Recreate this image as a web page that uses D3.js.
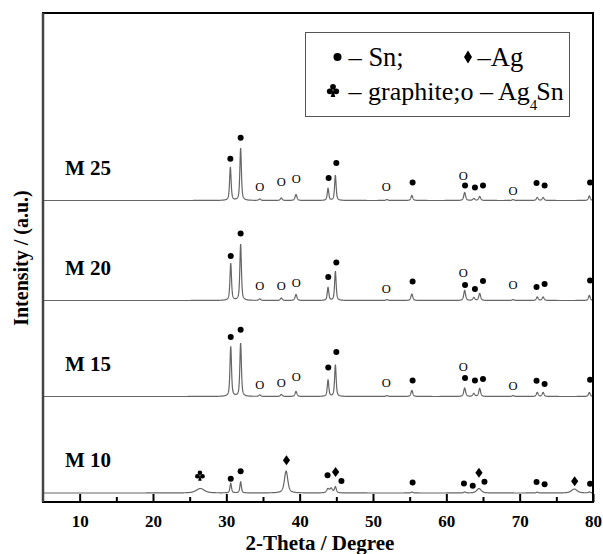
<!DOCTYPE html>
<html>
<head>
<meta charset="utf-8">
<script src="https://cdn.jsdelivr.net/npm/d3@7"></script>
<style>
  body { margin: 0; background: #fff; }
  svg { display: block; }
  text { font-family: "Liberation Serif", "Times New Roman", serif; fill: #000; }
</style>
</head>
<body>
<svg id="chart"></svg>
<script>
// data (intensity in a.u., baseline offsets of the stacked patterns)
const xTicks = [10, 20, 30, 40, 50, 60, 70, 80];
const xMinorTicks = [15, 25, 35, 45, 55, 65, 75];
const samples = ["M 10", "M 15", "M 20", "M 25"];
const baselines = [9, 105.5, 201.5, 301.5];

// peaks: [2theta, height, fwhm]
const peaksM10 = [[26.45, 4.5, 1.3], [30.6, 9.5, 0.25], [31.95, 11, 0.25], [38.15, 22, 0.55],
  [43.85, 4, 0.4], [44.3, 4.5, 0.4], [44.87, 6, 0.3], [55.3, 1, 0.3], [62.5, 1, 0.3],
  [64.45, 4.5, 0.7], [72.4, 0.8, 0.3], [77.45, 4, 0.9], [79.5, 1, 0.3]];
const peaksM15 = [[30.6, 50, 0.25], [31.95, 53, 0.25], [34.55, 1.5, 0.3], [37.5, 2, 0.3],
  [39.5, 5, 0.3], [43.87, 16.5, 0.25], [44.87, 31.5, 0.25], [51.9, 1, 0.3], [55.3, 6, 0.3],
  [62.5, 8.5, 0.3], [63.75, 3, 0.3], [64.55, 8, 0.3], [69.1, 1, 0.3], [72.4, 4, 0.3],
  [73.2, 4, 0.3], [79.5, 4, 0.3]];
const peaksM20 = [[30.6, 37, 0.25], [31.95, 56, 0.25], [34.55, 1.5, 0.3], [37.5, 2.5, 0.3],
  [39.5, 6, 0.3], [43.87, 13, 0.25], [44.87, 29, 0.25], [51.9, 1, 0.3], [55.3, 6.5, 0.3],
  [62.5, 10, 0.3], [63.75, 3, 0.3], [64.55, 7, 0.3], [69.1, 1, 0.3], [72.4, 3.5, 0.3],
  [73.2, 3.5, 0.3], [79.5, 5, 0.3]];
const peaksM25 = [[30.55, 33, 0.25], [31.95, 52, 0.25], [34.55, 1.5, 0.3], [37.5, 2.5, 0.3],
  [39.5, 6, 0.3], [43.87, 12, 0.25], [44.87, 25, 0.25], [51.9, 1, 0.3], [55.3, 5, 0.3],
  [62.5, 8, 0.3], [63.75, 2, 0.3], [64.55, 4, 0.3], [69.1, 1, 0.3], [72.4, 3, 0.3],
  [73.2, 3, 0.3], [79.5, 4.5, 0.3]];

// phase marks: [phase, 2theta, height above baseline]
const marksM10 = [["C", 26.4, 16.7], ["Sn", 30.6, 14.3], ["Sn", 31.95, 21.7], ["Ag", 38.2, 32.7],
  ["Sn", 43.8, 17.7], ["Ag", 44.9, 21], ["Sn", 45.7, 12], ["Sn", 55.4, 10.5], ["Sn", 62.4, 9.5],
  ["Sn", 63.6, 7.2], ["Ag", 64.45, 20.3], ["Sn", 65.2, 11.3], ["Sn", 72.3, 11], ["Sn", 73.4, 8.7],
  ["Ag", 77.5, 11.7], ["Sn", 79.6, 9.3]];
const marksM15 = [["Sn", 30.6, 59.4], ["Sn", 31.95, 66.7], ["AgSn", 34.55, 11.7], ["AgSn", 37.5, 13.3],
  ["AgSn", 39.55, 20], ["Sn", 43.9, 29], ["Sn", 45.0, 44.4], ["AgSn", 51.8, 14], ["Sn", 55.4, 16],
  ["AgSn", 62.3, 30], ["Sn", 62.55, 18.4], ["Sn", 63.9, 16], ["Sn", 65.0, 17.4], ["AgSn", 69.1, 10.7],
  ["Sn", 72.3, 15.7], ["Sn", 73.4, 12.4], ["Sn", 79.6, 16.7]];
const marksM20 = [["Sn", 30.6, 44.5], ["Sn", 31.95, 67], ["AgSn", 34.55, 15], ["AgSn", 37.5, 14.5],
  ["AgSn", 39.55, 17.5], ["Sn", 43.9, 23.5], ["Sn", 45.0, 38], ["AgSn", 51.8, 12], ["Sn", 55.4, 19],
  ["AgSn", 62.3, 27.5], ["Sn", 62.55, 15.5], ["Sn", 63.9, 11.5], ["Sn", 65.0, 19.5], ["AgSn", 69.1, 15.5],
  ["Sn", 72.3, 13.5], ["Sn", 73.4, 16.5], ["Sn", 79.6, 20]];
const marksM25 = [["Sn", 30.55, 41.7], ["Sn", 31.95, 62.7], ["AgSn", 34.55, 14], ["AgSn", 37.5, 19],
  ["AgSn", 39.55, 21.7], ["Sn", 43.95, 22.4], ["Sn", 45.0, 37.4], ["AgSn", 51.8, 13.7], ["Sn", 55.4, 18],
  ["AgSn", 62.3, 24.7], ["Sn", 62.55, 15], ["Sn", 63.9, 13], ["Sn", 65.0, 15], ["AgSn", 69.1, 10],
  ["Sn", 72.3, 17.4], ["Sn", 73.4, 15], ["Sn", 79.6, 18]];

const peaks = [peaksM10, peaksM15, peaksM20, peaksM25];
const marks = [marksM10, marksM15, marksM20, marksM25];

const width = 603;
const height = 554;
const plotLeft = 43, plotRight = 593, plotTop = 13, plotBottom = 502;

let svg = d3.select("#chart")
  .attr("width", width)
  .attr("height", height);

let x = d3.scaleLinear().domain([5, 80]).range([plotLeft, plotRight]);
let y = d3.scaleLinear().domain([0, plotBottom - plotTop]).range([plotBottom, plotTop]);

// pseudo-voigt peak profile
function profile(t, list) {
  let s = 0;
  list.forEach(([c, h, w]) => {
    let u = (t - c) / (w / 2);
    s += h * (0.6 / (1 + u * u) + 0.4 * Math.exp(-Math.LN2 * u * u));
  });
  return s;
}

// club symbol (graphite) drawn from three lobes and a stem
function drawClub(g, cx, cy, k) {
  let c = g.append("g").attr("transform", `translate(${cx},${cy}) scale(${k})`).attr("fill", "#000");
  c.append("circle").attr("cx", 0).attr("cy", -2.6).attr("r", 2.3);
  c.append("circle").attr("cx", -2.6).attr("cy", 1).attr("r", 2.3);
  c.append("circle").attr("cx", 2.6).attr("cy", 1).attr("r", 2.3);
  c.append("path").attr("d", "M0,-1L1.8,5.5L-1.8,5.5Z");
}

const grid = d3.range(5, 80.0001, 0.02);

let line = d3.line()
  .x(d => x(d[0]))
  .y(d => y(d[1]));

samples.forEach((name, i) => {
  let pts = grid.map(t => [t, baselines[i] + profile(t, peaks[i])]);
  svg.append("path")
    .datum(pts)
    .attr("d", line)
    .attr("fill", "none")
    .attr("stroke", "#666")
    .attr("stroke-width", 1.2);

  svg.append("text")
    .attr("x", 65)
    .attr("y", y(baselines[i] + 33))
    .attr("dominant-baseline", "central")
    .attr("font-size", 21)
    .attr("font-weight", "bold")
    .text(name);

  let g = svg.append("g");
  marks[i].forEach(([ph, t, off]) => {
    let cx = x(t), cy = y(baselines[i] + off);
    if (ph == "Sn") {
      g.append("circle").attr("cx", cx).attr("cy", cy).attr("r", 3).attr("fill", "#000");
    } else if (ph == "Ag") {
      g.append("path").attr("d", `M${cx},${cy - 5}L${cx + 3.6},${cy}L${cx},${cy + 5}L${cx - 3.6},${cy}Z`)
        .attr("fill", "#000");
    } else if (ph == "C") {
      drawClub(g, cx, cy - 1, 1);
    } else {
      g.append("text").attr("x", cx).attr("y", cy).attr("text-anchor", "middle")
        .attr("dominant-baseline", "central").attr("font-size", 12.5)
        .attr("fill", "#111").text("O");
    }
  });
});

// frame
svg.append("rect")
  .attr("x", plotLeft).attr("y", plotTop)
  .attr("width", plotRight - plotLeft).attr("height", plotBottom - plotTop)
  .attr("fill", "none").attr("stroke", "#000").attr("stroke-width", 2);
svg.append("line")
  .attr("x1", plotLeft).attr("x2", plotLeft).attr("y1", plotTop).attr("y2", plotBottom)
  .attr("stroke", "#444").attr("stroke-width", 2.5);

// bottom axis, ticks pointing inwards
let axisMajor = svg.append("g")
  .attr("transform", `translate(0, ${plotBottom})`)
  .call(d3.axisBottom(x).tickValues(xTicks).tickSizeInner(-8).tickSizeOuter(0).tickPadding(12.5));
axisMajor.select(".domain").remove();
axisMajor.selectAll("line").attr("stroke-width", 2);
axisMajor.selectAll("text")
  .attr("font-size", 17)
  .attr("font-weight", "bold")
  .style("font-family", "'Liberation Serif', serif");

let axisMinor = svg.append("g")
  .attr("transform", `translate(0, ${plotBottom})`)
  .call(d3.axisBottom(x).tickValues(xMinorTicks).tickSizeInner(-5).tickSizeOuter(0).tickFormat(""));
axisMinor.select(".domain").remove();
axisMinor.selectAll("line").attr("stroke-width", 2);

// axis titles
svg.append("text")
  .attr("x", 320).attr("y", 550)
  .attr("text-anchor", "middle")
  .attr("font-size", 21).attr("font-weight", "bold")
  .text("2-Theta / Degree");

svg.append("text")
  .attr("transform", "translate(28, 258) rotate(-90)")
  .attr("text-anchor", "middle")
  .attr("font-size", 20).attr("font-weight", "bold")
  .text("Intensity / (a.u.)");

// legend
let lg = svg.append("g");
lg.append("rect")
  .attr("x", 305.5).attr("y", 32.5).attr("width", 264).attr("height", 84)
  .attr("fill", "#fff").attr("stroke", "#555").attr("stroke-width", 1);
lg.append("circle").attr("cx", 337.5).attr("cy", 57).attr("r", 4).attr("fill", "#000");
lg.append("text").attr("x", 348.5).attr("y", 65.5).attr("font-size", 26.5).text("– Sn;");
lg.append("path").attr("d", "M468,50.5L472,57L468,63.5L464,57Z").attr("fill", "#000");
lg.append("text").attr("x", 477.5).attr("y", 65.5).attr("font-size", 26.5).text("–Ag");
drawClub(lg, 333, 90, 1.25);
let row2 = lg.append("text").attr("x", 348.5).attr("y", 99.5).attr("font-size", 26);
row2.append("tspan").text("– graphite;o – Ag");
row2.append("tspan").attr("font-size", 15).attr("dy", 10).attr("dx", 0).text("4");
row2.append("tspan").attr("dy", -10).attr("dx", -1).text("Sn");
</script>
</body>
</html>
